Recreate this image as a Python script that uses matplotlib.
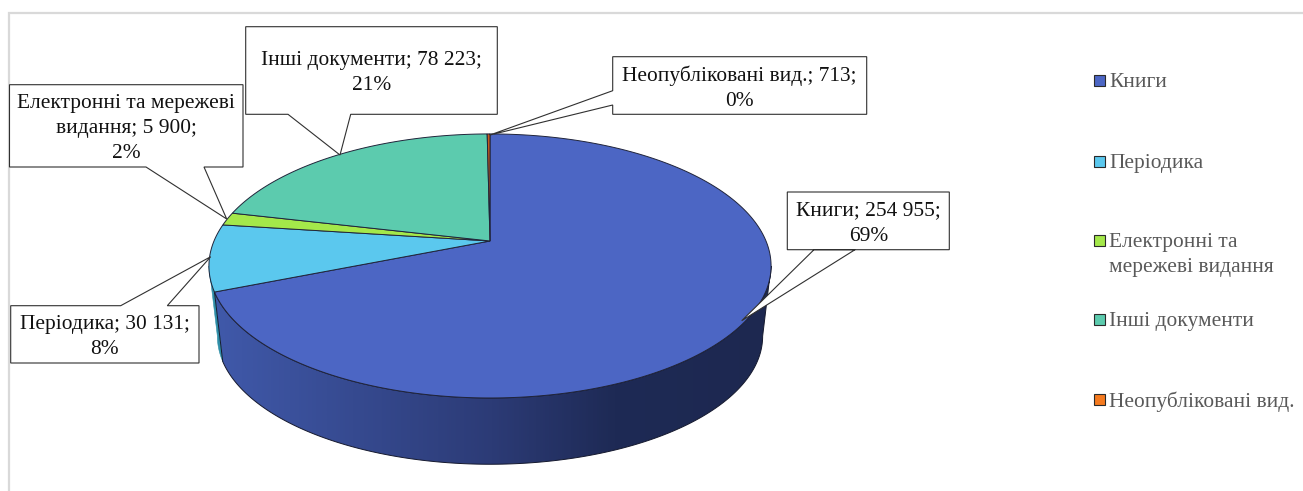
import numpy as np
import matplotlib
matplotlib.use("Agg")
import matplotlib.pyplot as plt
from matplotlib.patches import Polygon, Rectangle
from matplotlib.path import Path
from matplotlib.transforms import Transform, Affine2D
from matplotlib.colors import LinearSegmentedColormap

# ---- data ----
categories = ["Книги", "Періодика", "Електронні та мережеві видання",
              "Інші документи", "Неопубліковані вид."]
values = [254955, 30131, 5900, 78223, 713]
percents = [69, 8, 2, 21, 0]
top_colors = ["#4c66c4", "#5bc8ee", "#a4e84a", "#5ccbae", "#c55a1c"]
legend_colors = ["#4c66c4", "#5bc8ee", "#a4e84a", "#5ccbae", "#f57a1f"]
side_colors = ["#3f58a8", "#2f8fa8", "#6f9e30", "#3c8b76", "#8a3f12"]
legend_labels = ["Книги", "Періодика", "Електронні та\nмережеві видання",
                 "Інші документи", "Неопубліковані вид."]
data_labels = ["Книги; 254 955;\n69%", "Періодика; 30 131;\n8%",
               "Електронні та мережеві\nвидання; 5 900;\n2%",
               "Інші документи; 78 223;\n21%", "Неопубліковані вид.; 713;\n0%"]

# ---- layout (pixels) ----
W, H = 1303, 491
APEX = (490.0, 241.0)
BX, AY, K = 276.0, 127.3, 0.189
BOTTOM_DY, BOTTOM_S = 71.0, 0.97
# box left, right, top, bottom; tail start, tip, tail end
callouts = [
    ((787.3, 949.3, 192.0, 249.7), (814, 249.7), (741.7, 320.7), (855, 249.7)),
    ((10.7, 199.0, 305.7, 363.0), (167.3, 305.7), (210.7, 256.7), (120.7, 305.7)),
    ((9.5, 243.0, 84.7, 167.0), (204, 167.0), (226.7, 219.0), (146, 167.0)),
    ((245.7, 497.3, 26.7, 114.3), (350.7, 114.3), (340, 155), (288, 114.3)),
    ((612.7, 866.7, 56.7, 114.3), (612.7, 105), (490, 135), (612.7, 90.7)),
]
legend_y = [80, 161, 240, 319, 399]


class Perspective(Transform):
    """Maps the unit-circle pie plane to the tilted disc in pixel space."""
    input_dims = output_dims = 2
    has_inverted = False

    def __init__(self, dy=0.0, s=1.0):
        super().__init__()
        self.dy, self.s = dy, s

    def transform_non_affine(self, xy):
        xy = np.asarray(xy, float)
        w = 1 + K * xy[:, 1]
        return np.column_stack([APEX[0] + self.s * BX * xy[:, 0] / w,
                                APEX[1] + self.dy - self.s * AY * xy[:, 1] / w])

    def transform_path_non_affine(self, path):
        polys = path.transformed(Affine2D().scale(2000)).to_polygons(closed_only=False)
        verts = np.vstack(polys) / 2000.0
        return Path(self.transform_non_affine(verts))


fig = plt.figure(figsize=(W / 100, H / 100), dpi=100, facecolor="white")
ax = fig.add_axes([0, 0, 1, 1])
plt.rcParams["font.family"] = ["Liberation Serif", "DejaVu Serif"]

wedges, _ = ax.pie(values, colors=top_colors, startangle=90, counterclock=False,
                   wedgeprops=dict(edgecolor="#20243a", linewidth=0.7))
ax.set_aspect("auto")
ax.set_xlim(0, W)
ax.set_ylim(H, 0)
ax.axis("off")

top = Perspective()
bottom = Perspective(BOTTOM_DY, BOTTOM_S)
for w in wedges:
    w.set_transform(top + ax.transData)
    w.set_zorder(5)


def rim(tr, deg):
    r = np.radians(deg)
    return tr.transform_non_affine(np.column_stack([np.cos(r), np.sin(r)]))


# outer side wall, only the part facing the viewer (between the silhouette tangents)
TANGENT = np.degrees(np.arcsin(K))
VIS_LO, VIS_HI = 180 + TANGENT, 360 - TANGENT
cmap = LinearSegmentedColormap.from_list("side", [(0, "#4059aa"), (0.5, "#2c3b76"),
                                                  (0.72, "#1e2a55"), (1, "#1d2850")])
for i, w in enumerate(wedges):
    t1, t2 = w.theta1 % 360, w.theta2 % 360
    if t2 <= t1:
        t2 += 360
    spans = [(max(t1, VIS_LO), min(t2, VIS_HI)),
             (max(t1 + 360, VIS_LO), min(t2 + 360, VIS_HI))]
    for lo, hi in spans:
        if hi <= lo:
            continue
        d = np.linspace(lo, hi, 200)
        pts = np.vstack([rim(top, d), rim(bottom, d[::-1])])
        if i == 0:
            poly = Polygon(pts, closed=True, fc="none", ec="none", zorder=3)
            ax.add_patch(poly)
            im = ax.imshow(np.linspace(0, 1, 512)[None, :], cmap=cmap, vmin=0, vmax=1,
                           extent=(pts[:, 0].min(), pts[:, 0].max(), H, 0), aspect="auto", zorder=2)
            im.set_clip_path(poly)
            ax.add_patch(Polygon(pts, closed=True, fc="none", ec="#15192e", lw=0.7, zorder=3))
        else:
            ax.add_patch(Polygon(pts, closed=True, fc=side_colors[i], ec=side_colors[i], lw=0.4, zorder=2))
ax.set_xlim(0, W)
ax.set_ylim(H, 0)

# chart frame
ax.plot([9, 9, W], [H, 12.5, 12.5], color="#d9d9d9", lw=1.6, zorder=1, solid_joinstyle="miter")

# callouts
FS = 15.4
for label, (box, a, tip, b) in zip(data_labels, callouts):
    l, r, t, bt = box
    if a[1] == bt:            # tail leaves the lower edge
        v = [(l, t), (r, t), (r, bt), a, tip, b, (l, bt)]
    elif a[1] == t:           # tail leaves the upper edge
        v = [(l, t), b, tip, a, (r, t), (r, bt), (l, bt)]
    else:                     # tail leaves the left edge
        v = [(l, t), (r, t), (r, bt), (l, bt), a, tip, b]
    ax.add_patch(Polygon(v, closed=True, fc="white", ec="#303030", lw=0.8, zorder=6))
    ax.text((l + r) / 2, (t + bt) / 2 + 2.5, label, ha="center", va="center", fontsize=FS,
            color="#111111", linespacing=1.45, zorder=7, multialignment="center")

# legend
for lab, col, y in zip(legend_labels, legend_colors, legend_y):
    ax.add_patch(Rectangle((1093.5, y - 5.5), 11, 11, fc=col, ec="#2a2a2a", lw=0.8, zorder=6))
    ax.text(1109, y - 7, lab, ha="left", va="top", fontsize=FS, color="#595959",
            linespacing=1.45, zorder=7)

fig.savefig("out.png", dpi=100)
